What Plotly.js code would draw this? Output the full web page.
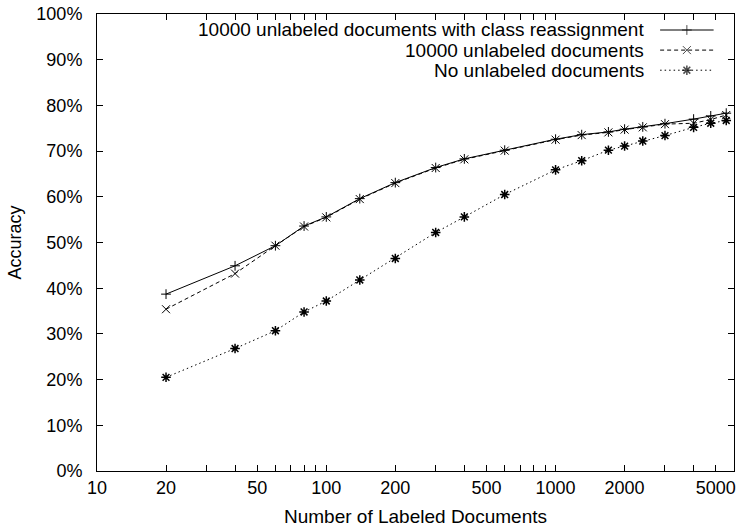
<!DOCTYPE html>
<html>
<head>
<meta charset="utf-8">
<script src="https://cdn.plot.ly/plotly-3.0.1.min.js"></script>
<style>html,body{margin:0;padding:0;background:#fff}#chart{width:737px;height:527px}</style>
</head>
<body>
<div id="chart"></div>
<script>
// ---- data ----
var labeledDocs = [20, 40, 60, 80, 100, 140, 200, 300, 400, 600, 1000, 1300, 1700, 2000, 2400, 3000, 4000, 4750, 5550];
var withReassign = [38.7, 44.9, 49.3, 53.6, 55.6, 59.6, 63.1, 66.4, 68.3, 70.2, 72.6, 73.6, 74.2, 74.8, 75.3, 76.0, 77.0, 77.7, 78.3];
var unlabeled10000 = [35.4, 43.2, 49.3, 53.5, 55.5, 59.5, 63.0, 66.3, 68.2, 70.1, 72.5, 73.5, 74.1, 74.7, 75.2, 75.9, 76.1, 76.9, 77.9];
var noUnlabeled = [20.5, 26.8, 30.7, 34.8, 37.2, 41.8, 46.5, 52.2, 55.6, 60.5, 65.9, 67.9, 70.2, 71.1, 72.2, 73.4, 75.2, 76.1, 76.7];
var seriesNames = ["10000 unlabeled documents with class reassignment", "10000 unlabeled documents", "No unlabeled documents"];
var xTickLabels = ["10", "20", "50", "100", "200", "500", "1000", "2000", "5000"];
var yTickVals = [0, 10, 20, 30, 40, 50, 60, 70, 80, 90, 100];
var yTickText = ["0%", "10%", "20%", "30%", "40%", "50%", "60%", "70%", "80%", "90%", "100%"];

// ---- tick positions for log axis (labeled + unlabeled minor) ----
var xTickVals = [], xTickText = [];
[10, 100, 1000].forEach(function (dec) {
  for (var m = 1; m <= 9; m++) {
    var v = dec * m;
    if (v > 6000) break;
    xTickVals.push(v);
    var s = String(v);
    xTickText.push(xTickLabels.indexOf(s) >= 0 ? s : "");
  }
});

var FONT = "Liberation Sans, Arial, Helvetica, sans-serif";
var styles = [
  {dash: "solid", symbol: "cross-thin", size: 7},
  {dash: "4px,3px", symbol: "x-thin", size: 8},
  {dash: "1.5px,3px", symbol: "asterisk", size: 8}
];
var ys = [withReassign, unlabeled10000, noUnlabeled];

var traces = [];
ys.forEach(function (y, i) {
  traces.push({
    x: labeledDocs, y: y, type: "scatter", mode: "lines+markers",
    name: seriesNames[i], showlegend: false,
    line: {color: "#000", width: 1, dash: styles[i].dash},
    marker: {symbol: styles[i].symbol, size: styles[i].size, color: "#000",
             line: {color: "#000", width: i === 2 ? 1.5 : 1}}
  });
});

// legend samples (gnuplot-style key: text right, sample on the right)
var keyY = [0.965, 0.921, 0.877];
var annotations = [];
seriesNames.forEach(function (n, i) {
  traces.push({
    x: [0.884, 0.926, 0.968], y: [keyY[i], keyY[i], keyY[i]],
    xaxis: "x2", yaxis: "y2", type: "scatter", mode: "lines+markers",
    showlegend: false, hoverinfo: "skip",
    line: {color: "#000", width: 1, dash: styles[i].dash},
    marker: {symbol: styles[i].symbol, size: [0, styles[i].size, 0], color: "#000",
             line: {color: "#000", width: i === 2 ? 1.5 : 1}}
  });
  annotations.push({
    xref: "paper", yref: "paper", x: 0.862, y: keyY[i],
    xanchor: "right", yanchor: "middle", showarrow: false,
    text: n, font: {family: FONT, size: 19, color: "#000"}
  });
});

var layout = {
  width: 737, height: 527,
  margin: {l: 97, r: 3, t: 14, b: 56},
  paper_bgcolor: "#fff", plot_bgcolor: "#fff",
  font: {family: FONT, size: 18, color: "#000"},
  showlegend: false,
  xaxis: {
    type: "log", range: [1, Math.log10(6000)],
    tickmode: "array", tickvals: xTickVals, ticktext: xTickText,
    ticks: "inside", ticklen: 6, tickwidth: 1, tickcolor: "#000",
    showline: true, linecolor: "#000", linewidth: 1, mirror: "ticks",
    showgrid: false, zeroline: false,
    tickfont: {family: FONT, size: 18, color: "#000"},
    title: {text: "Number of Labeled Documents", font: {family: FONT, size: 19, color: "#000"}, standoff: 14}
  },
  yaxis: {
    range: [0, 100], tickmode: "array", tickvals: yTickVals, ticktext: yTickText,
    ticks: "inside", ticklen: 6, tickwidth: 1, tickcolor: "#000",
    showline: true, linecolor: "#000", linewidth: 1, mirror: "ticks",
    showgrid: false, zeroline: false,
    ticklabelstandoff: 10,
    tickfont: {family: FONT, size: 18, color: "#000"},
    title: {text: "Accuracy", font: {family: FONT, size: 18, color: "#000"}, standoff: 10}
  },
  xaxis2: {overlaying: "x", anchor: "y2", range: [0, 1], visible: false, fixedrange: true},
  yaxis2: {overlaying: "y", anchor: "x2", range: [0, 1], visible: false, fixedrange: true},
  annotations: annotations
};

Plotly.newPlot("chart", traces, layout, {staticPlot: true, displayModeBar: false});
</script>
</body>
</html>
